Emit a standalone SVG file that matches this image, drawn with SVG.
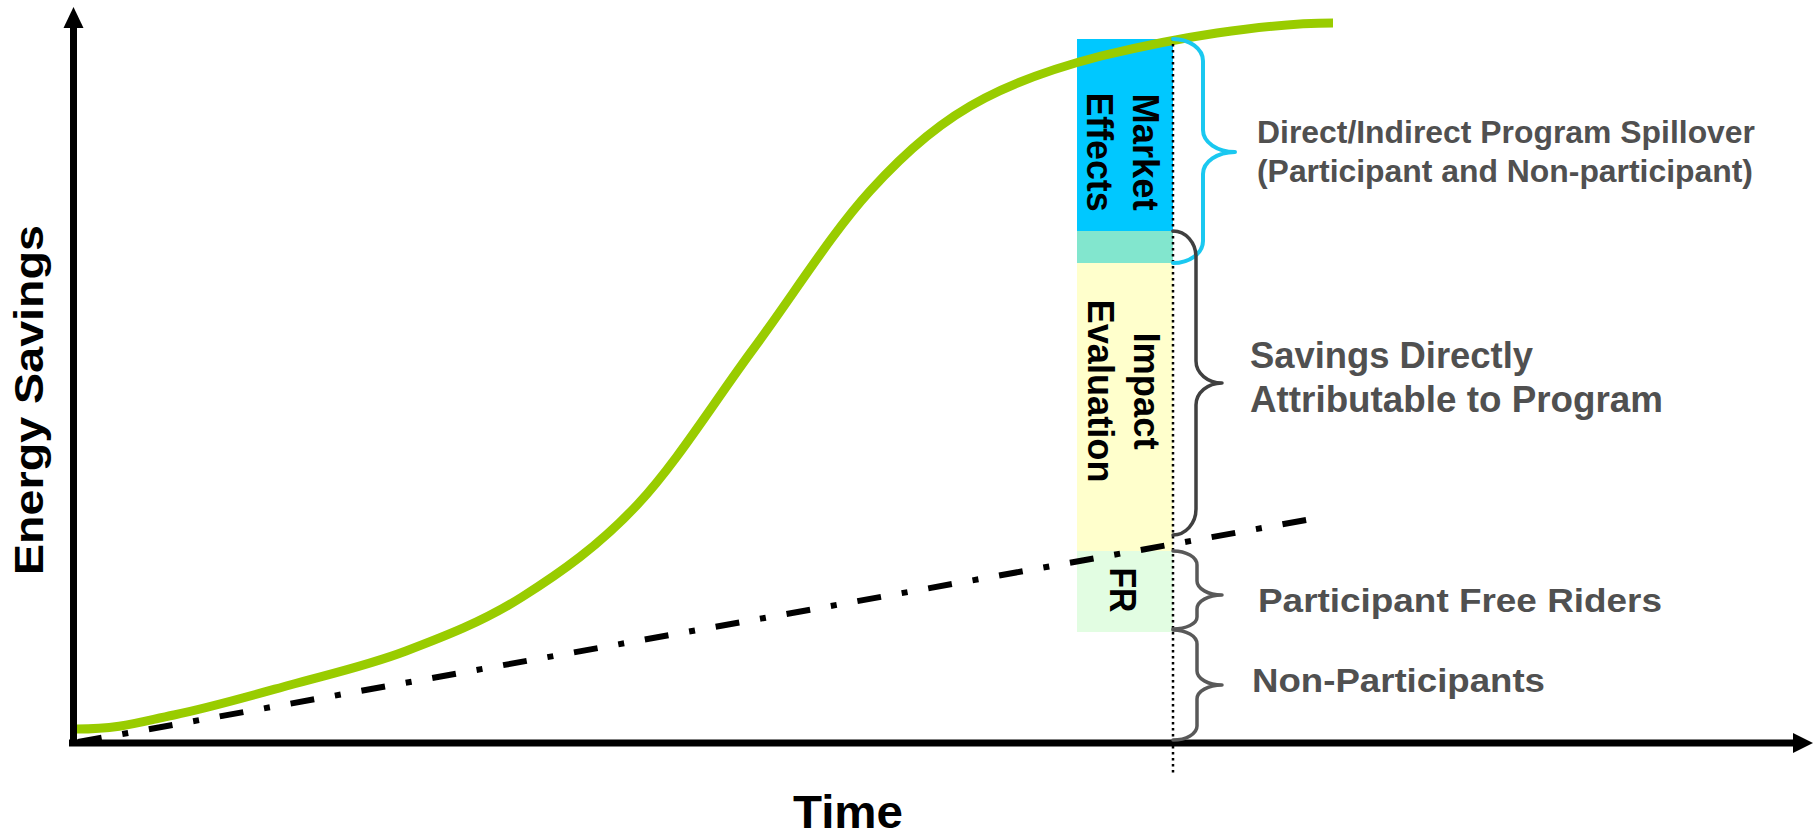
<svg xmlns="http://www.w3.org/2000/svg" width="1818" height="836" viewBox="0 0 1818 836">
<style>
.lbl{font-family:"Liberation Sans",Arial,sans-serif;font-weight:bold;fill:#505050}
.bar{font-family:"Liberation Sans",Arial,sans-serif;font-weight:bold;fill:#000;font-size:36px}
.ax{font-family:"Liberation Sans",Arial,sans-serif;font-weight:bold;fill:#000}
.brace{fill:none;stroke-linecap:round;stroke-linejoin:round}
</style>
<rect width="1818" height="836" fill="#fff"/>
<g id="bars">
<rect id="market" x="1077" y="39" width="96" height="192" fill="#00C8FF"/>
<rect id="overlap" x="1077" y="231" width="96" height="32" fill="#82E6CE"/>
<rect id="impact" x="1077" y="263" width="96" height="288" fill="#FFFFCC"/>
<rect id="fr" x="1077" y="551" width="96" height="81" fill="#E2FDE2"/>
<text class="bar" transform="translate(1133,152) rotate(90)" text-anchor="middle" textLength="117" lengthAdjust="spacingAndGlyphs">Market</text>
<text class="bar" transform="translate(1087,152) rotate(90)" text-anchor="middle" textLength="119" lengthAdjust="spacingAndGlyphs">Effects</text>
<text class="bar" transform="translate(1134,391) rotate(90)" text-anchor="middle" textLength="117" lengthAdjust="spacingAndGlyphs">Impact</text>
<text class="bar" transform="translate(1088,391) rotate(90)" text-anchor="middle" textLength="183" lengthAdjust="spacingAndGlyphs">Evaluation</text>
<text class="bar" transform="translate(1110,590) rotate(90)" text-anchor="middle" textLength="45" lengthAdjust="spacingAndGlyphs">FR</text>
</g>
<g id="connectors">
<path id="baseline" d="M78,742 L1323,517" fill="none" stroke="#000" stroke-width="6" stroke-dasharray="24 21 6 21"/>
<path id="adoption-curve" d="M77,729 C120,729 138.5,722.3 174,715 C209.5,707.7 251.3,695.7 290,685 C328.7,674.3 367.3,665.7 406,651 C444.7,636.3 483.3,621.5 522,597 C560.7,572.5 599.3,545.5 638,504 C676.7,462.5 715.3,400.2 754,348 C792.7,295.8 831.5,233.2 870,191 C908.5,148.8 944,119 985,98 C1023.5,78 1062.3,66 1101,56 C1139.7,46.7 1178.3,38.7 1217,33 C1255.7,27.3 1300,23 1333,23" fill="none" stroke="#99CC00" stroke-width="9"/>
<line id="marker-line" x1="1173" y1="38" x2="1173" y2="773" stroke="#000" stroke-width="2.5" stroke-dasharray="2.5 3.5"/>
</g>
<g id="axes">
<line x1="73.5" y1="27" x2="73.5" y2="746" stroke="#000" stroke-width="7"/>
<polygon points="73.5,7 63.5,28 83.5,28" fill="#000"/>
<line x1="69" y1="743" x2="1794" y2="743" stroke="#000" stroke-width="7"/>
<polygon points="1813,743 1793,733 1793,753" fill="#000"/>
<text class="ax" transform="translate(43,575) rotate(-90)" font-size="40" textLength="350" lengthAdjust="spacingAndGlyphs">Energy Savings</text>
<text class="ax" x="793" y="828" font-size="46" textLength="110" lengthAdjust="spacingAndGlyphs">Time</text>
</g>
<g id="spillover">
<path class="brace" d="M1173,39 A30,22 0 0 1 1203,61 L1203,130 A32,22 0 0 0 1235,152 A32,22 0 0 0 1203,174 L1203,241 A30,22 0 0 1 1173,263" stroke="#1AC8F0" stroke-width="4"/>
<text class="lbl" font-size="31" x="1257" y="143" textLength="498" lengthAdjust="spacingAndGlyphs">Direct/Indirect Program Spillover</text>
<text class="lbl" font-size="31" x="1257" y="182" textLength="496" lengthAdjust="spacingAndGlyphs">(Participant and Non-participant)</text>
</g>
<g id="direct">
<path class="brace" d="M1173,231 A23,26 0 0 1 1196,257 L1196,361 A26,22 0 0 0 1222,383 A26,22 0 0 0 1196,405 L1196,509 A23,26 0 0 1 1173,535" stroke="#404040" stroke-width="3.5"/>
<text class="lbl" font-size="37" x="1250" y="368" textLength="283" lengthAdjust="spacingAndGlyphs">Savings Directly</text>
<text class="lbl" font-size="37" x="1250" y="412" textLength="413" lengthAdjust="spacingAndGlyphs">Attributable to Program</text>
</g>
<g id="free-riders">
<path class="brace" d="M1173,551 A24,14 0 0 1 1197,565 L1197,581 A25,14 0 0 0 1222,595 A25,14 0 0 0 1197,609 L1197,617 A24,12 0 0 1 1173,629" stroke="#595959" stroke-width="3.5"/>
<text class="lbl" font-size="34" x="1258" y="612" textLength="404" lengthAdjust="spacingAndGlyphs">Participant Free Riders</text>
</g>
<g id="non-participants">
<path class="brace" d="M1173,630 A24,14 0 0 1 1197,644 L1197,671 A25,14 0 0 0 1222,685 A25,14 0 0 0 1197,699 L1197,726 A24,14 0 0 1 1173,740" stroke="#595959" stroke-width="3.5"/>
<text class="lbl" font-size="34" x="1252" y="692" textLength="293" lengthAdjust="spacingAndGlyphs">Non-Participants</text>
</g>
</svg>
